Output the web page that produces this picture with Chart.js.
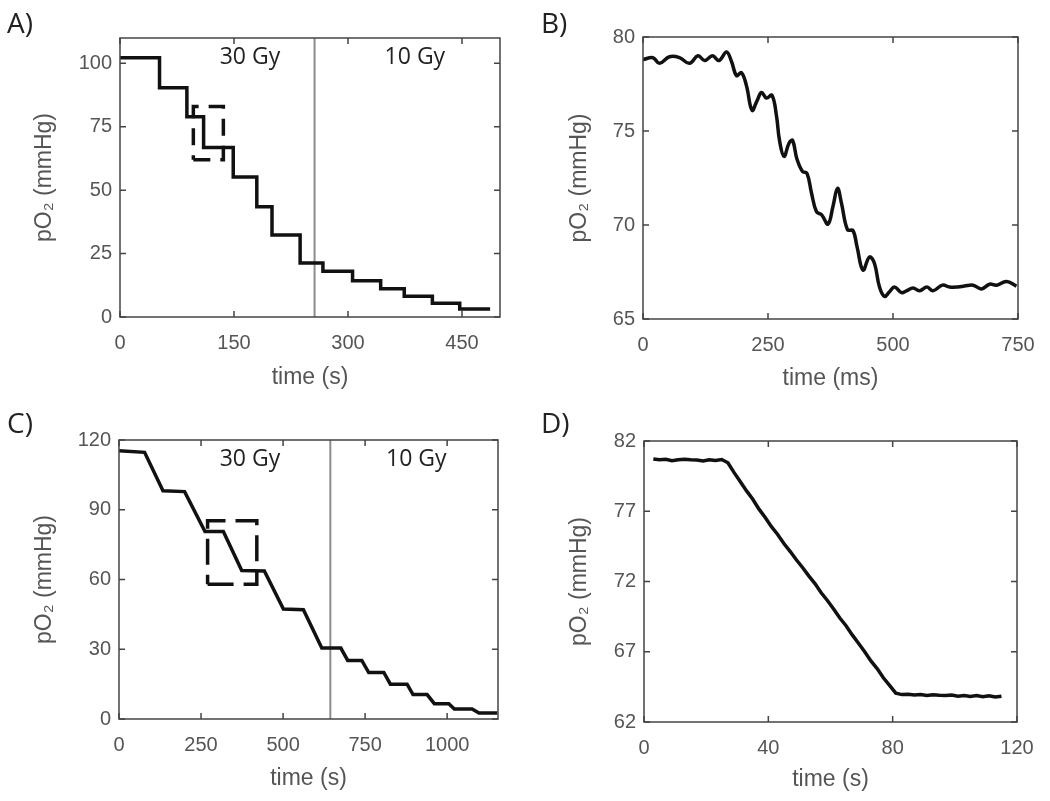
<!DOCTYPE html>
<html><head><meta charset="utf-8">
<script src="https://cdn.jsdelivr.net/npm/chart.js@4/dist/chart.umd.min.js"></script>
<style>
html,body{margin:0;padding:0;background:#fff;}
#wrap{position:relative;width:1050px;height:801px;overflow:hidden;background:#fff;}
.panel{position:absolute;width:525px;height:400px;}
.lbl{position:absolute;font-family:"Open Sans";font-size:28px;line-height:28px;color:#222;}
</style></head><body>
<div id="wrap">
<div class="panel" style="left:0;top:0"><canvas id="cA" width="525" height="400"></canvas></div>
<div class="panel" style="left:525px;top:0"><canvas id="cB" width="525" height="400"></canvas></div>
<div class="panel" style="left:0;top:400px"><canvas id="cC" width="525" height="400"></canvas></div>
<div class="panel" style="left:525px;top:400px"><canvas id="cD" width="525" height="400"></canvas></div>
<div class="lbl" style="left:7px;top:8px">A)</div>
<div class="lbl" style="left:541px;top:8px">B)</div>
<div class="lbl" style="left:7px;top:408px">C)</div>
<div class="lbl" style="left:541px;top:408px">D)</div>
</div>
<script>
// ---------- Panel A: step-wise pO2 vs time (s) ----------
const aTime = [0, 52, 88, 110, 149, 180, 200, 237, 267, 306, 343, 374, 411, 447, 487];
const aPO2  = [102.2, 90.4, 79, 66.8, 55.2, 43.5, 32.3, 21.3, 18.0, 14.3, 11.1, 8.2, 5.4, 3.2, 3.2];
const aDoseChange = 256;
const aBoxTime = [96.5, 136];
const aBoxPO2 = [62, 83];
const aXTicks = [0, 150, 300, 450];
const aYTicks = [0, 25, 50, 75, 100];
const aLabels = ["30 Gy", "10 Gy"];
const aLabelTime = [171, 388];
const aLabelPO2 = 102.2;

// ---------- Panel B: zoomed drop, time (ms) ----------
const bTime = [0, 20, 33, 53, 73, 93, 110, 123, 139, 152, 167, 177, 187, 197, 207, 218, 228, 237, 247, 258, 267, 273, 282, 292, 299, 308, 319, 328, 337, 347, 357, 370, 380, 389, 397, 409, 420, 428, 440, 453, 463, 473, 483, 493, 503, 517, 527, 540, 553, 568, 580, 599, 613, 630, 643, 660, 677, 693, 707, 727, 747];
const bPO2  = [78.8, 78.9, 78.6, 78.95, 78.9, 78.6, 79.0, 78.75, 79.0, 78.75, 79.2, 78.7, 77.95, 78.1, 77.4, 76.1, 76.6, 77.05, 76.75, 76.9, 75.8, 74.5, 73.65, 74.35, 74.5, 73.5, 72.85, 72.75, 71.7, 70.7, 70.55, 70.05, 71.0, 71.95, 71.15, 69.75, 69.7, 68.85, 67.6, 68.3, 67.95, 66.7, 66.2, 66.45, 66.7, 66.4, 66.5, 66.65, 66.5, 66.7, 66.5, 66.8, 66.7, 66.7, 66.75, 66.8, 66.6, 66.85, 66.8, 67.0, 66.75];
const bXTicks = [0, 250, 500, 750];
const bYTicks = [65, 70, 75, 80];

// ---------- Panel C: ramped pO2 vs time (s) ----------
const cTime = [0, 78, 134, 200, 262, 318, 374, 443, 501, 562, 618, 676, 697, 740, 761, 807, 827, 878, 896, 939, 961, 1005, 1022, 1076, 1097, 1153];
const cPO2  = [115.4, 114.7, 98.2, 97.8, 80.6, 80.6, 63.9, 63.7, 47.3, 47.0, 30.5, 30.5, 25.2, 25.2, 20.0, 20.0, 15.0, 15.0, 10.5, 10.5, 6.6, 6.6, 4.3, 4.3, 2.6, 2.6];
const cDoseChange = 644;
const cBoxTime = [270, 420];
const cBoxPO2 = [58, 85.3];
const cXTicks = [0, 250, 500, 750, 1000];
const cYTicks = [0, 30, 60, 90, 120];
const cLabelTime = [399, 906];
const cLabelPO2 = 111.7;

// ---------- Panel D: linear drop vs time (s) ----------
const dTime = [3, 5, 7, 9, 11, 13, 15, 17, 19, 21, 23, 25, 27, 29, 31, 33, 35, 37, 39, 41, 43, 45, 47, 49, 51, 53, 55, 57, 59, 61, 63, 65, 67, 69, 71, 73, 75, 77, 79, 81, 83, 85, 87, 89, 91, 93, 95, 97, 99, 101, 103, 105, 107, 109, 111, 113, 115];
const dPO2  = [80.72, 80.66, 80.70, 80.60, 80.66, 80.70, 80.66, 80.64, 80.58, 80.66, 80.62, 80.68, 80.45, 79.75, 79.10, 78.45, 77.85, 77.15, 76.55, 75.90, 75.35, 74.70, 74.15, 73.55, 73.00, 72.40, 71.85, 71.20, 70.65, 70.05, 69.40, 68.85, 68.20, 67.60, 67.00, 66.35, 65.80, 65.15, 64.60, 64.05, 63.95, 63.98, 63.92, 63.96, 63.88, 63.94, 63.90, 63.88, 63.92, 63.84, 63.88, 63.82, 63.88, 63.80, 63.86, 63.78, 63.84];
const dXTicks = [0, 40, 80, 120];
const dYTicks = [62, 67, 72, 77, 82];

const yTitle = "pO\u2082 (mmHg)";
const TF = '"Liberation Sans", Arial, sans-serif';
const AXC = '#444';
const LBC = '#555';
const LINE = '#111';

const boxPlugin = {
  id: 'box',
  afterDatasetsDraw(chart, args, opts) {
    const {ctx, chartArea: a, scales: {x, y}} = chart;
    ctx.save();
    (opts.texts || []).forEach(t => {
      ctx.font = '23px "Open Sans", sans-serif';
      ctx.fillStyle = '#222';
      ctx.textAlign = 'center';
      ctx.textBaseline = 'middle';
      ctx.fillText(t.text, x.getPixelForValue(t.x), y.getPixelForValue(t.y));
    });
    ctx.strokeStyle = AXC;
    ctx.lineWidth = 1.5;
    ctx.strokeRect(a.left, a.top, a.right - a.left, a.bottom - a.top);
    const L = 6;
    ctx.beginPath();
    x.ticks.forEach(t => {
      const p = x.getPixelForValue(t.value);
      ctx.moveTo(p, a.bottom); ctx.lineTo(p, a.bottom - L);
      ctx.moveTo(p, a.top); ctx.lineTo(p, a.top + L);
    });
    y.ticks.forEach(t => {
      const p = y.getPixelForValue(t.value);
      ctx.moveTo(a.left, p); ctx.lineTo(a.left + L, p);
      ctx.moveTo(a.right, p); ctx.lineTo(a.right - L, p);
    });
    ctx.stroke();
    ctx.restore();
  }
};

function pts(xs, ys) { return xs.map((v, i) => ({x: v, y: ys[i]})); }
function rect(tx, py) {
  return [{x: tx[0], y: py[0]}, {x: tx[1], y: py[0]}, {x: tx[1], y: py[1]}, {x: tx[0], y: py[1]}, {x: tx[0], y: py[0]}];
}

function makeChart(id, o) {
  const xs = {
    type: 'linear', position: 'bottom', min: o.xmin, max: o.xmax,
    grid: {display: false, drawTicks: false}, border: {display: false},
    ticks: {font: {family: TF, size: 20}, color: LBC, padding: o.xpad, maxRotation: 0, autoSkip: false, callback: v => String(v)},
    afterBuildTicks: ax => { ax.ticks = o.xticks.map(v => ({value: v})); },
    afterFit: ax => { ax.height = o.xh; },
    title: {display: true, text: o.xtitle, font: {family: TF, size: 23}, color: LBC, padding: {top: 0, bottom: o.xtb}}
  };
  const ys = {
    type: 'linear', position: 'left', min: o.ymin, max: o.ymax,
    grid: {display: false, drawTicks: false}, border: {display: false},
    ticks: {font: {family: TF, size: 20}, color: LBC, padding: 8, autoSkip: false, callback: v => String(v)},
    afterBuildTicks: ax => { ax.ticks = o.yticks.map(v => ({value: v})); },
    afterFit: ax => { ax.width = o.yw; },
    title: {display: true, text: yTitle, font: {family: TF, size: 23}, color: LBC, padding: {top: o.ytp, bottom: 0}}
  };
  return new Chart(document.getElementById(id), {
    type: 'line',
    data: {datasets: o.datasets},
    options: {
      responsive: false, animation: false,
      layout: {padding: {top: o.top, right: o.right, left: 0, bottom: 0}},
      plugins: {legend: {display: false}, tooltip: {enabled: false}, box: {texts: o.texts || []}},
      elements: {point: {radius: 0}},
      scales: {x: xs, y: ys}
    },
    plugins: [boxPlugin]
  });
}

const LW = 3.5;

makeChart('cA', {
  xmin: 0, xmax: 500, ymin: 0, ymax: 110, xticks: aXTicks, yticks: aYTicks,
  xtitle: 'time (s)', xh: 83, yw: 120, top: 38, right: 25, xpad: 14, xtb: 9, ytp: 31,
  texts: [{text: aLabels[0], x: aLabelTime[0], y: aLabelPO2}, {text: aLabels[1], x: aLabelTime[1], y: aLabelPO2}],
  datasets: [
    {data: pts(aTime, aPO2), stepped: true, borderColor: LINE, borderWidth: LW, pointRadius: 0, fill: false},
    {data: rect(aBoxTime, aBoxPO2), borderColor: LINE, borderWidth: LW, borderDash: [17, 10], pointRadius: 0, fill: false},
    {data: [{x: aDoseChange, y: 0}, {x: aDoseChange, y: 110}], borderColor: '#8c8c8c', borderWidth: 2, pointRadius: 0, fill: false}
  ]
});

makeChart('cB', {
  xmin: 0, xmax: 750, ymin: 65, ymax: 80, xticks: bXTicks, yticks: bYTicks,
  xtitle: 'time (ms)', xh: 81, yw: 118, top: 37, right: 32, xpad: 14, xtb: 8, ytp: 41,
  datasets: [
    {data: pts(bTime, bPO2), tension: 0.4, borderColor: LINE, borderWidth: LW, pointRadius: 0, fill: false}
  ]
});

makeChart('cC', {
  xmin: 0, xmax: 1155, ymin: 0, ymax: 120, xticks: cXTicks, yticks: cYTicks,
  xtitle: 'time (s)', xh: 81, yw: 119, top: 40, right: 27, xpad: 14, xtb: 8, ytp: 31,
  texts: [{text: aLabels[0], x: cLabelTime[0], y: cLabelPO2}, {text: aLabels[1], x: cLabelTime[1], y: cLabelPO2}],
  datasets: [
    {data: pts(cTime, cPO2), borderColor: LINE, borderWidth: LW, pointRadius: 0, fill: false},
    {data: rect(cBoxTime, cBoxPO2), borderColor: LINE, borderWidth: LW, borderDash: [26, 10], pointRadius: 0, fill: false},
    {data: [{x: cDoseChange, y: 0}, {x: cDoseChange, y: 120}], borderColor: '#8c8c8c', borderWidth: 2, pointRadius: 0, fill: false}
  ]
});

makeChart('cD', {
  xmin: 0, xmax: 120, ymin: 62, ymax: 82, xticks: dXTicks, yticks: dYTicks,
  xtitle: 'time (s)', xh: 78, yw: 119, top: 41, right: 33, xpad: 14, xtb: 7, ytp: 41,
  datasets: [
    {data: pts(dTime, dPO2), borderColor: LINE, borderWidth: LW, pointRadius: 0, fill: false}
  ]
});
</script>
</body></html>
